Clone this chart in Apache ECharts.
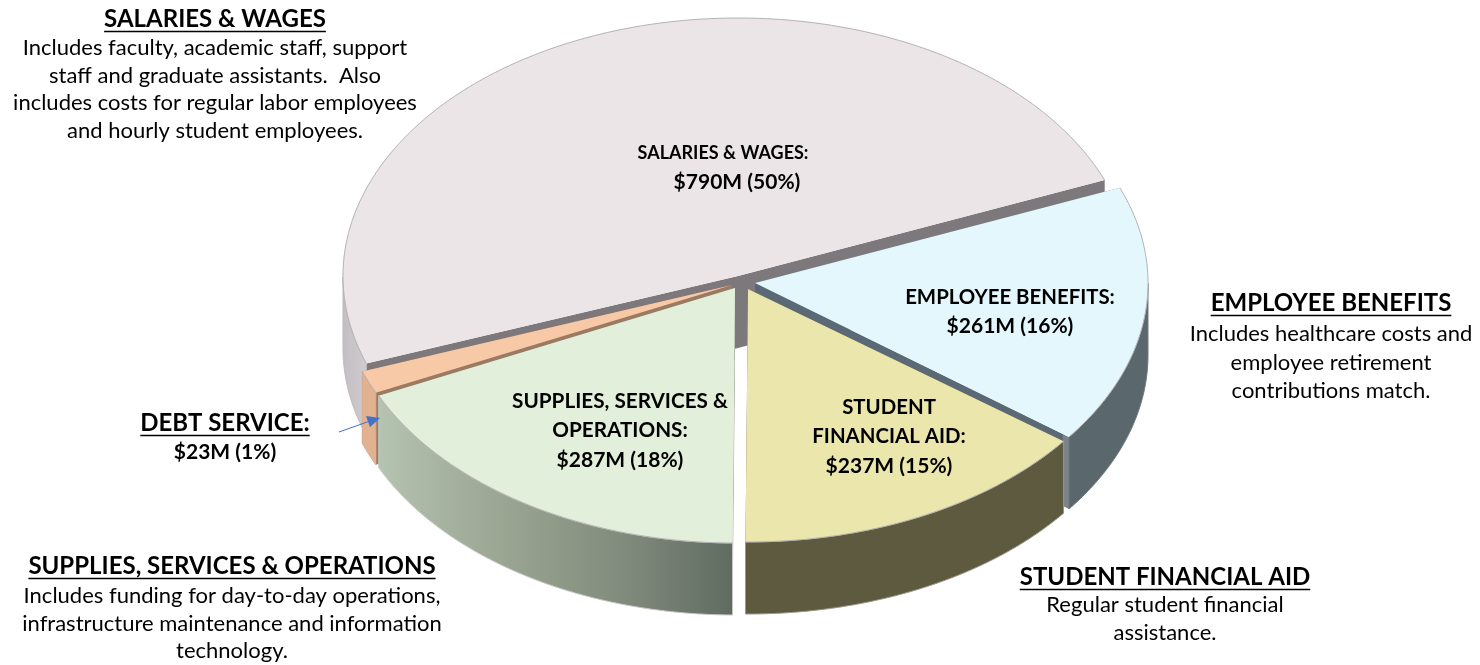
<!DOCTYPE html>
<html>
<head>
<meta charset="utf-8">
<style>html,body{margin:0;padding:0;background:#fff}#c{width:1480px;height:665px}</style>
<script src="https://cdn.jsdelivr.net/npm/echarts@6/dist/echarts.min.js"></script>
</head>
<body>
<div id="c"></div>
<script>
// ---- data ----
const categories = ['SALARIES & WAGES', 'EMPLOYEE BENEFITS', 'STUDENT FINANCIAL AID', 'SUPPLIES, SERVICES & OPERATIONS', 'DEBT SERVICE'];
const amounts = [790, 261, 237, 287, 23];
const percents = [50, 16, 15, 18, 1];
const sliceLabelLines = [
  ['SALARIES & WAGES:'],
  ['EMPLOYEE BENEFITS:'],
  ['STUDENT', 'FINANCIAL AID:'],
  ['SUPPLIES, SERVICES &', 'OPERATIONS:'],
  []
];
const descriptions = [
  ['Includes faculty, academic staff, support', 'staff and graduate assistants.  Also', 'includes costs for regular labor employees', 'and hourly student employees.'],
  ['Includes healthcare costs and', 'employee retirement', 'contributions match.'],
  ['Regular student financial', 'assistance.'],
  ['Includes funding for day-to-day operations,', 'infrastructure maintenance and information', 'technology.'],
  []
];

// ---- pie geometry and styling ----
const PIE = {cx: 741, cy: 282, depth: 72, startAngle: 199.8};
const radiusX = [395, 393, 395, 393, 393];
const radiusY = [258, 256, 253, 255, 255];
const explodeOffset = [[-3, -6], [14, 1], [7, 7], [-6, 6], [-9, 3]];
const paintOrder = [1, 2, 5, 4, 3];
const topColors = ['#ece5e8', '#e4f7fd', '#ebe6ab', '#e2efdb', '#f8c9a6'];
const wallStrokes = ['#bdb9bc', '#6f7a7f', '#9a9886', '#c6c8c4', '#d9b195'];
const FONT = 'Lato';
const TITLE_SIZE = 24, BODY_SIZE = 22;
const LABEL_SIZES = [18, 20.4, 20.4, 20.7];
const AMOUNT_SIZE = 21;
const grad = (x1, x2, stops) => new echarts.graphic.LinearGradient(x1, 0, x2, 0, stops.map(s => ({offset: s[0], color: s[1]})), true);
const wallColors = [
  grad(344, 370, [[0, '#c4bfc2'], [1, '#d2cdd0']]),
  '#5a676c',
  '#5d5a40',
  grad(378, 737, [[0, '#b5c3b1'], [0.35, '#9aa592'], [0.7, '#7f8a7c'], [1, '#5f6a60']]),
  '#e2b190'
];
const cutColors = [
  '#7c787b',
  grad(755, 1070, [[0, '#5a6975'], [0.975, '#5a6975'], [0.98, '#7c8489'], [1, '#7c8489']]),
  '#5d5a40',
  '#9aa592',
  '#9c7a62'
];

const total = amounts.reduce((a, b) => a + b, 0);
let cursor = PIE.startAngle;
const spans = amounts.map(v => { const s = cursor, e = cursor - v / total * 360; cursor = e; return [s, e]; });

function renderSlice(params, api) {
  const i = params.dataIndex;
  const span = (api.value(0) / total) * 360;
  const a0 = spans[i][0], a1 = a0 - span;
  const cx = PIE.cx + explodeOffset[i][0];
  const cy = PIE.cy + explodeOffset[i][1];
  const rx = radiusX[i], ry = radiusY[i];
  const rim = [], front = [];
  const n = Math.max(4, Math.ceil(span * 2));
  for (let k = 0; k <= n; k++) {
    const t = (a0 + (a1 - a0) * k / n) * Math.PI / 180;
    const p = [cx + rx * Math.cos(t), cy - ry * Math.sin(t)];
    rim.push(p);
    if (Math.sin(t) <= 0.002) front.push(p);
  }
  const down = p => [p[0], p[1] + PIE.depth];
  const apex = [cx, cy];
  const z = paintOrder[i] * 10;
  const first = rim[0], last = rim[rim.length - 1];
  return {
    type: 'group',
    children: [
      {type: 'polygon', z2: z, shape: {points: [apex, first, down(first), down(apex)]}, style: {fill: cutColors[i]}},
      {type: 'polygon', z2: z, shape: {points: [apex, last, down(last), down(apex)]}, style: {fill: cutColors[i]}},
      {type: 'polygon', z2: z + 1, shape: {points: front.concat(front.slice().reverse().map(down))},
        style: {fill: wallColors[i], stroke: wallStrokes[i], lineWidth: 1}},
      {type: 'polygon', z2: z + 2, shape: {points: [apex].concat(rim)}, style: {fill: topColors[i]}},
      {type: 'polyline', z2: z + 3, shape: {points: rim}, style: {fill: null, stroke: '#b4b1b3', lineWidth: 1}}
    ]
  };
}

// ---- text ----
const measure = document.createElement('canvas').getContext('2d');
function textEl(str, x, y, size, bold) {
  return {type: 'text', silent: true, z: 20, style: {
    text: str, x: x, y: y, fill: '#000',
    font: (bold ? 'bold ' : '') + size + 'px ' + FONT,
    textAlign: 'center', textVerticalAlign: 'middle'
  }};
}
function underlined(str, x, y, size) {
  measure.font = 'bold ' + size + 'px ' + FONT;
  const w = measure.measureText(str).width;
  return [textEl(str, x, y, size, true), {
    type: 'line', silent: true, z: 20,
    shape: {x1: x - w / 2, y1: y + 12.5, x2: x + w / 2, y2: y + 12.5},
    style: {stroke: '#000', lineWidth: 1.6}
  }];
}
const elements = [];
// outer captions
const captionAnchors = [[215, 19], [1331, 303], [1165, 577], [232, 566]];
const captionLeading = [[215, 48, 27.5], [1331, 334, 28.5], [1165, 605, 28], [232, 596, 27.5]];
captionAnchors.forEach((p, i) => {
  elements.push(...underlined(categories[i], p[0], p[1], TITLE_SIZE));
  descriptions[i].forEach((line, k) => elements.push(textEl(line, captionLeading[i][0], captionLeading[i][1] + k * captionLeading[i][2], BODY_SIZE, false)));
});
// slice labels
const labelAnchors = [[723, 153], [1010, 297], [889, 407], [620, 401]];
labelAnchors.forEach((p, i) => {
  const lines = sliceLabelLines[i];
  lines.forEach((line, k) => elements.push(textEl(line, p[0], p[1] + k * 29, LABEL_SIZES[i], true)));
  elements.push(textEl('$' + amounts[i] + 'M (' + percents[i] + '%)', i === 0 ? p[0] + 14 : p[0], p[1] + lines.length * 29.5, AMOUNT_SIZE, true));
});
// debt service call-out
elements.push(...underlined(categories[4] + ':', 225, 423, TITLE_SIZE));
elements.push(textEl('$' + amounts[4] + 'M (' + percents[4] + '%)', 225, 452, AMOUNT_SIZE, true));
// arrow
elements.push({type: 'line', silent: true, z: 20, shape: {x1: 339, y1: 432, x2: 370, y2: 421}, style: {stroke: '#4472c4', lineWidth: 1}});
elements.push({type: 'polygon', silent: true, z: 20, shape: {points: [[380, 418], [366, 416], [370, 427]]}, style: {fill: '#4472c4'}});

const chart = echarts.init(document.getElementById('c'), null, {renderer: 'canvas'});
chart.setOption({
  animation: false,
  backgroundColor: '#fff',
  graphic: {elements: elements},
  series: [{
    type: 'custom',
    coordinateSystem: 'none',
    silent: true,
    renderItem: renderSlice,
    data: amounts.map((v, i) => ({name: categories[i], value: [v]}))
  }]
});
</script>
</body>
</html>
